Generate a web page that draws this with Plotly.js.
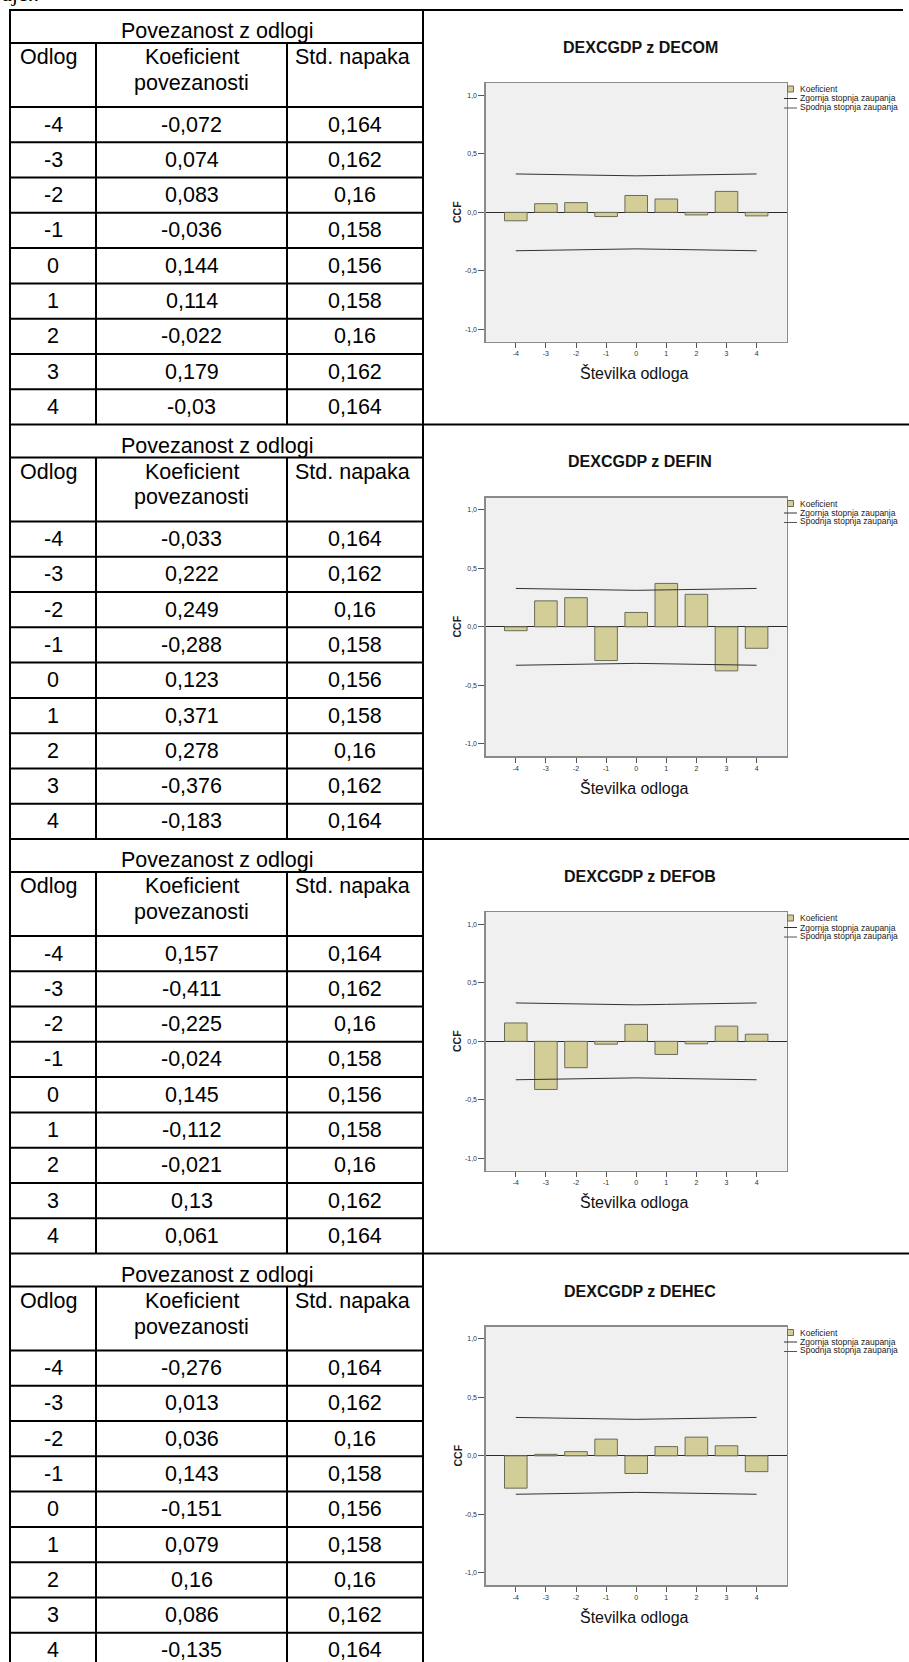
<!DOCTYPE html>
<html>
<head>
<meta charset="utf-8">
<script src="https://cdn.plot.ly/plotly-3.0.1.min.js"></script>
<style>
  html, body { margin: 0; padding: 0; background: #ffffff; }
  #chart { width: 909px; height: 1662px; }
</style>
</head>
<body>
<div id="chart"></div>
<script>
// Cross-correlation of DEXCGDP with four series, lags -4 … 4
const lags = [-4, -3, -2, -1, 0, 1, 2, 3, 4];
const seriesNames = ['DECOM', 'DEFIN', 'DEFOB', 'DEHEC'];

const coefDECOM = [-0.072, 0.074, 0.083, -0.036, 0.144, 0.114, -0.022, 0.179, -0.03];
const coefDEFIN = [-0.033, 0.222, 0.249, -0.288, 0.123, 0.371, 0.278, -0.376, -0.183];
const coefDEFOB = [0.157, -0.411, -0.225, -0.024, 0.145, -0.112, -0.021, 0.13, 0.061];
const coefDEHEC = [-0.276, 0.013, 0.036, 0.143, -0.151, 0.079, 0.16, 0.086, -0.135];

const stdErrDECOM = [0.164, 0.162, 0.16, 0.158, 0.156, 0.158, 0.16, 0.162, 0.164];
const stdErrDEFIN = [0.164, 0.162, 0.16, 0.158, 0.156, 0.158, 0.16, 0.162, 0.164];
const stdErrDEFOB = [0.164, 0.162, 0.16, 0.158, 0.156, 0.158, 0.16, 0.162, 0.164];
const stdErrDEHEC = [0.164, 0.162, 0.16, 0.158, 0.156, 0.158, 0.16, 0.162, 0.164];

const yTickVals = [-1, -0.5, 0, 0.5, 1];
const yTickText = ['-1,0', '-0,5', '0,0', '0,5', '1,0'];

const tableTitle = 'Povezanost z odlogi';
const colLag = 'Odlog';
const colCoef1 = 'Koeficient';
const colCoef2 = 'povezanosti';
const colSe = 'Std. napaka';
const xAxisTitle = 'Številka odloga';
const yAxisTitle = 'CCF';
const legendBar = 'Koeficient';
const legendUpper = 'Zgornja stopnja zaupanja';
const legendLower = 'Spodnja stopnja zaupanja';
const leadText = 'aje.:';

// confidence band: two standard errors around zero
const confZ = 2;

const coefs = [coefDECOM, coefDEFIN, coefDEFOB, coefDEHEC];
const stdErrs = [stdErrDECOM, stdErrDEFIN, stdErrDEFOB, stdErrDEHEC];

// ---- page geometry (pixels) ----
const W = 909, H = 1662;
const px = x => x / W;
const py = y => 1 - y / H;

const SEC_TOP0 = 10, SEC_H = 414.5;
const TBL_L = 10, COL1 = 96, COL2 = 287, TBL_R = 423;
const H1 = 33, H2 = 64;
const ROW_H = (SEC_H - H1 - H2) / 9;

const PLOT_L = 485.7, PLOT_R = 786.7;
const PLOT_T = 73, PLOT_B = 331.7;

const TABLE_FONT = { family: 'Liberation Sans, Arial, sans-serif', size: 21.5, color: '#000000' };
const fmt = v => String(v).replace('.', ',');

const traces = [];
const shapes = [];
const annotations = [];
const layout = {
  width: W, height: H,
  margin: { l: 0, r: 0, t: 0, b: 0, pad: 0 },
  paper_bgcolor: '#ffffff',
  plot_bgcolor: '#f0f0f0',
  showlegend: false,
  separators: ', ',
  font: { family: 'Liberation Sans, Arial, sans-serif', color: '#222222' },
  shapes: shapes,
  annotations: annotations
};

function hline(x0, x1, y, w) {
  shapes.push({ type: 'line', xref: 'paper', yref: 'paper',
    x0: px(x0), x1: px(x1), y0: py(y), y1: py(y),
    line: { color: '#000000', width: w || 2 } });
}
function vline(x, y0, y1, w) {
  shapes.push({ type: 'line', xref: 'paper', yref: 'paper',
    x0: px(x), x1: px(x), y0: py(y0), y1: py(y1),
    line: { color: '#000000', width: w || 2 } });
}
function text(t, x, y, font, opts) {
  annotations.push(Object.assign({
    text: t, xref: 'paper', yref: 'paper', x: px(x), y: py(y),
    xanchor: 'center', yanchor: 'middle', showarrow: false, font: font
  }, opts || {}));
}

// leading fragment of the sentence above the table
text(leadText, 0, -6, { family: 'Liberation Serif, Times New Roman, serif', size: 22, color: '#000' },
  { xanchor: 'left' });

// outer verticals of the table, full height
vline(TBL_L, SEC_TOP0, H + 5);
vline(TBL_R, SEC_TOP0, H + 5);

seriesNames.forEach((name, i) => {
  const T = SEC_TOP0 + SEC_H * i;
  const coef = coefs[i];
  const se = stdErrs[i];

  // ---------- table ----------
  hline(TBL_L - 1, i === 0 ? 903 : W, T);
  hline(TBL_L, TBL_R, T + H1);
  hline(TBL_L, TBL_R, T + H1 + H2);
  vline(COL1, T + H1, T + SEC_H);
  vline(COL2, T + H1, T + SEC_H);

  text(tableTitle, (TBL_L + TBL_R) / 2, T + 21, TABLE_FONT);
  text(colLag, TBL_L + 8, T + H1 + 14, TABLE_FONT, { xanchor: 'left' });
  text(colCoef1, (COL1 + COL2) / 2, T + H1 + 14, TABLE_FONT);
  text(colCoef2, (COL1 + COL2) / 2, T + H1 + 40, TABLE_FONT);
  text(colSe, COL2 + 6, T + H1 + 14, TABLE_FONT, { xanchor: 'left' });

  lags.forEach((lag, k) => {
    const top = T + H1 + H2 + ROW_H * k;
    if (k > 0) hline(TBL_L, TBL_R, top);
    const cy = top + ROW_H / 2;
    text(String(lag), (TBL_L + COL1) / 2, cy, TABLE_FONT);
    text(fmt(coef[k]), (COL1 + COL2) / 2, cy, TABLE_FONT);
    text(fmt(se[k]), (COL2 + TBL_R) / 2, cy, TABLE_FONT);
  });

  // ---------- chart ----------
  const n = i === 0 ? '' : String(i + 1);
  const xa = 'x' + n, ya = 'y' + n;

  layout['xaxis' + n] = {
    domain: [px(PLOT_L), px(PLOT_R)], anchor: ya,
    range: [-5, 5], tickvals: lags, ticktext: lags.map(String),
    ticks: 'outside', ticklen: 5, tickwidth: 1, tickcolor: '#555555',
    tickfont: { size: 7, color: '#333333' },
    showline: true, mirror: true, linecolor: '#8a8a8a', linewidth: 1.3,
    showgrid: false, zeroline: false, fixedrange: true
  };
  layout['yaxis' + n] = {
    domain: [py(T + PLOT_B), py(T + PLOT_T)], anchor: xa,
    range: [-1.105, 1.105], tickvals: yTickVals, ticktext: yTickText,
    ticks: 'outside', ticklen: 6, tickwidth: 1, tickcolor: '#555555',
    tickfont: { size: 7, color: '#333333' },
    showline: true, mirror: true, linecolor: '#8a8a8a', linewidth: 1.3,
    showgrid: false, zeroline: true, zerolinecolor: '#2a2a2a', zerolinewidth: 1.2,
    fixedrange: true
  };

  traces.push({
    type: 'bar', x: lags, y: coef, xaxis: xa, yaxis: ya, width: 0.75,
    marker: { color: '#d3ce97', line: { color: '#6b6b5a', width: 1 } },
    hoverinfo: 'skip'
  });
  traces.push({
    type: 'scatter', mode: 'lines', x: lags, y: se.map(s => confZ * s),
    xaxis: xa, yaxis: ya, line: { color: '#333333', width: 1 }, hoverinfo: 'skip'
  });
  traces.push({
    type: 'scatter', mode: 'lines', x: lags, y: se.map(s => -confZ * s),
    xaxis: xa, yaxis: ya, line: { color: '#333333', width: 1 }, hoverinfo: 'skip'
  });

  // titles
  text('DEXCGDP z ' + name, 640, T + 37.5,
    { family: 'Liberation Sans, Arial, sans-serif', size: 16, color: '#111111', weight: 'bold' });
  text(xAxisTitle, 634, T + 363,
    { family: 'Liberation Sans, Arial, sans-serif', size: 16, color: '#111111' });
  text(yAxisTitle, 457, T + 202,
    { family: 'Liberation Sans, Arial, sans-serif', size: 10.5, color: '#222222', weight: 'bold' },
    { textangle: -90 });

  // legend
  shapes.push({ type: 'rect', xref: 'paper', yref: 'paper',
    x0: px(787.5), x1: px(793.5), y0: py(T + 82), y1: py(T + 76),
    fillcolor: '#d3ce97', line: { color: '#6b6b5a', width: 1 } });
  shapes.push({ type: 'line', xref: 'paper', yref: 'paper',
    x0: px(784), x1: px(797), y0: py(T + 88.5), y1: py(T + 88.5),
    line: { color: '#333333', width: 1 } });
  shapes.push({ type: 'line', xref: 'paper', yref: 'paper',
    x0: px(784), x1: px(797), y0: py(T + 98), y1: py(T + 98),
    line: { color: '#555555', width: 1 } });
  const lf = { family: 'Liberation Sans, Arial, sans-serif', size: 8.5, color: '#222222' };
  text(legendBar, 798, T + 79, lf, { xanchor: 'left' });
  text(legendUpper, 798, T + 88.5, lf, { xanchor: 'left' });
  text(legendLower, 798, T + 96.5, lf, { xanchor: 'left' });
});

Plotly.newPlot('chart', traces, layout, { displayModeBar: false, staticPlot: true });
</script>
</body>
</html>
